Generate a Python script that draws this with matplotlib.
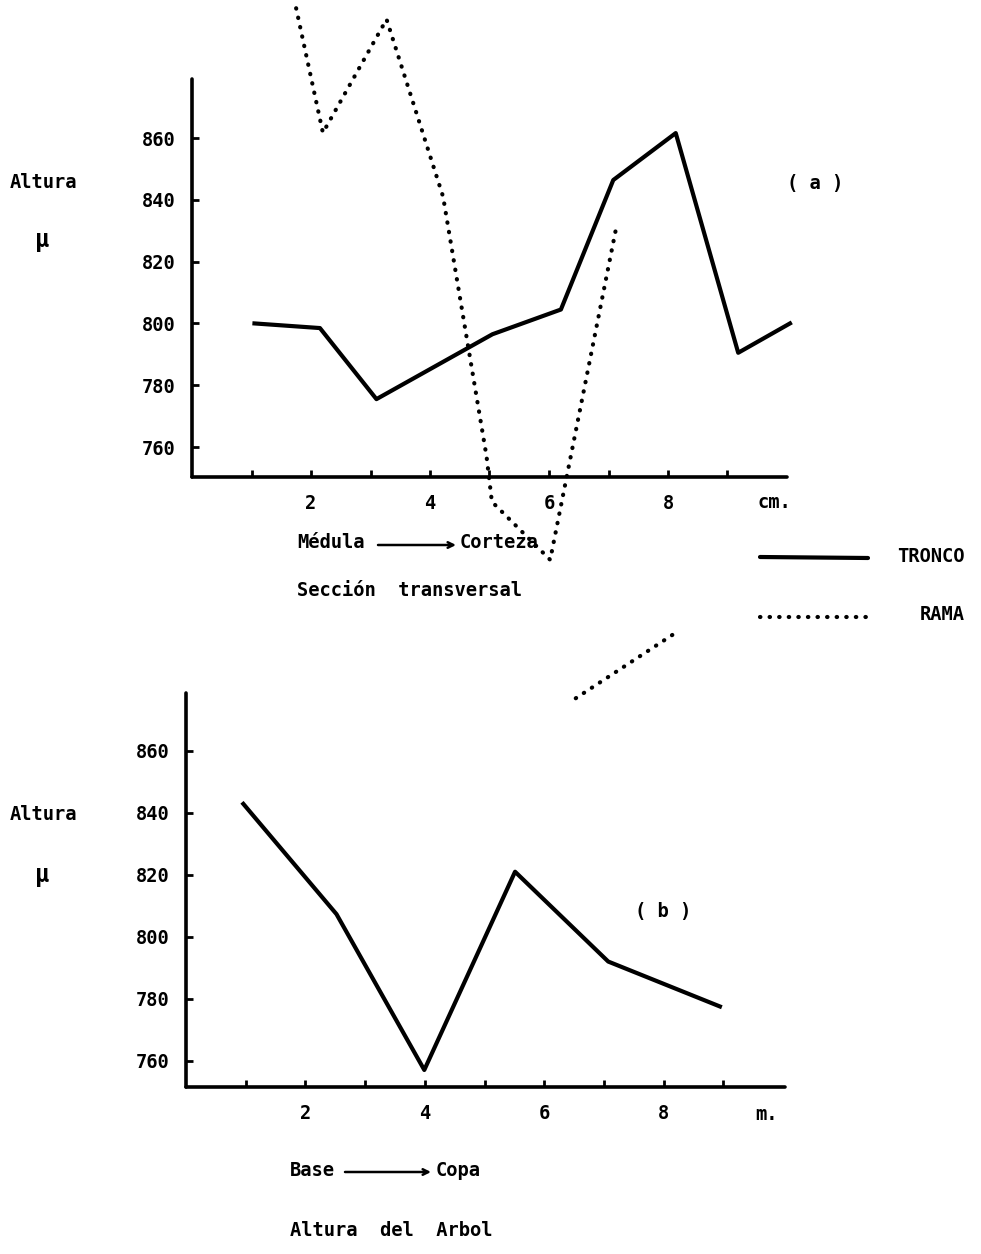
import matplotlib.pyplot as plt
from matplotlib.lines import Line2D

# ---- data ----
tronco_a_x = [1.05, 2.15, 3.1, 5.05, 6.2, 7.08, 8.13, 9.18, 10.05]
tronco_a_y = [800.0, 798.5, 775.5, 796.5, 804.5, 846.4, 861.6, 790.5, 800.0]

rama_a_x = [1.75, 2.2, 3.27, 4.22, 4.95, 5.04, 6.02, 7.14]
rama_a_y = [902.0, 861.7, 898.4, 841.0, 757.0, 742.3, 723.5, 832.0]

# stray dotted piece of the RAMA curve, lying between the two panels
rama_frag_x = [6.45, 8.09]
rama_frag_y = [678.7, 699.4]

tronco_b_x = [0.96, 2.52, 3.99, 5.51, 7.07, 8.94]
tronco_b_y = [842.9, 807.3, 757.0, 821.0, 792.0, 777.5]

x_ticks = [1, 2, 3, 4, 5, 6, 7, 8, 9]
x_ticklabels = ['', '2', '', '4', '', '6', '', '8', '']
y_ticks = [760, 780, 800, 820, 840, 860]

W, H = 981, 1254
fig = plt.figure(figsize=(W / 100, H / 100), dpi=100)

mono = 'DejaVu Sans Mono'
fs = 13.5
dotted = (0, (0.1, 2.2))


def fx(px):
    return px / W


def fy(py):
    return 1 - py / H


def setup(ax, ylim, xlim):
    ax.set_xlim(*xlim)
    ax.set_ylim(*ylim)
    for s in ['top', 'right']:
        ax.spines[s].set_visible(False)
    for s in ['left', 'bottom']:
        ax.spines[s].set_linewidth(2.6)
        ax.spines[s].set_capstyle('round')
    ax.set_xticks(x_ticks)
    ax.set_xticklabels(x_ticklabels)
    ax.set_yticks(y_ticks)
    ax.tick_params(direction='in', length=5, width=2, pad=12)
    for lab in ax.get_xticklabels() + ax.get_yticklabels():
        lab.set_family(mono)
        lab.set_fontsize(fs)
        lab.set_fontweight('bold')
    ax.patch.set_visible(False)


# ---- panel (a) ----
ax1 = fig.add_axes([fx(192), fy(477), fx(787 - 192), (477 - 79) / H])
setup(ax1, (750.3, 879.1), (0, 10.0))
ax1.plot(tronco_a_x, tronco_a_y, color='black', lw=3, solid_joinstyle='round', clip_on=False)
ax1.plot(rama_a_x, rama_a_y, color='black', lw=3, ls=dotted,
         dash_capstyle='round', clip_on=False)
ax1.plot(rama_frag_x, rama_frag_y, color='black', lw=3, ls=dotted,
         dash_capstyle='round', clip_on=False)

# ---- panel (b) ----
ax2 = fig.add_axes([fx(186), fy(1087), fx(785 - 186), (1087 - 693) / H])
setup(ax2, (751.5, 878.7), (0, 10.03))
ax2.plot(tronco_b_x, tronco_b_y, color='black', lw=3, solid_joinstyle='round', clip_on=False)

# ---- texts ----
kw = dict(family=mono, fontsize=fs, fontweight='bold', va='center')
fig.text(fx(10), fy(183), 'Altura', ha='left', **kw)
fig.text(fx(42), fy(240), 'µ', ha='center', family=mono, fontsize=17, fontweight='bold', va='center')
fig.text(fx(815), fy(183), '( a )', ha='center', **kw)
fig.text(fx(774), fy(502), 'cm.', ha='center', **kw)
fig.text(fx(297), fy(543), 'Médula', ha='left', **kw)
fig.text(fx(460), fy(543), 'Corteza', ha='left', **kw)
fig.text(fx(297), fy(590), 'Sección  transversal', ha='left', **kw)

fig.text(fx(10), fy(815), 'Altura', ha='left', **kw)
fig.text(fx(42), fy(875), 'µ', ha='center', family=mono, fontsize=17, fontweight='bold', va='center')
fig.text(fx(663), fy(912), '( b )', ha='center', **kw)
fig.text(fx(766), fy(1114), 'm.', ha='center', **kw)
fig.text(fx(290), fy(1170), 'Base', ha='left', **kw)
fig.text(fx(436), fy(1170), 'Copa', ha='left', **kw)
fig.text(fx(290), fy(1230), 'Altura  del  Arbol', ha='left', **kw)

# arrows
for x0, x1, y in [(378, 456, 545), (345, 431, 1172)]:
    fig.add_artist(plt.Annotation('', xy=(fx(x1), fy(y)), xytext=(fx(x0), fy(y)),
                                  xycoords='figure fraction', textcoords='figure fraction',
                                  arrowprops=dict(arrowstyle='->', lw=1.8, color='black',
                                                  shrinkA=0, shrinkB=0)))

# legend
fig.add_artist(Line2D([fx(760), fx(868)], [fy(557), fy(558)], color='black', lw=3,
                      solid_capstyle='round'))
fig.add_artist(Line2D([fx(760), fx(868)], [fy(617), fy(617)], color='black', lw=3,
                      ls=dotted, dash_capstyle='round'))
fig.text(fx(897), fy(557), 'TRONCO', ha='left', **kw)
fig.text(fx(920), fy(615), 'RAMA', ha='left', **kw)

fig.savefig('out.png', dpi=100)
